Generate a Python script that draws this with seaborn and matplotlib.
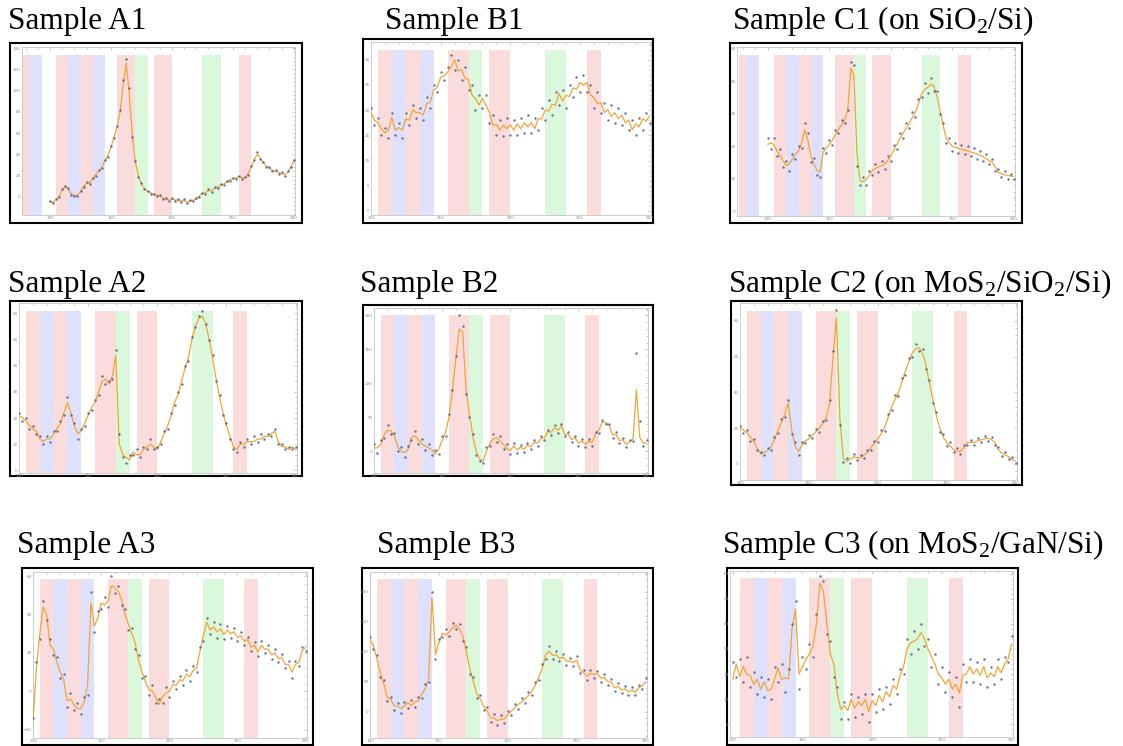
import numpy as np
import matplotlib
matplotlib.use("Agg")
import matplotlib.pyplot as plt
from matplotlib.ticker import AutoMinorLocator, MultipleLocator
import seaborn as sns

# ---------------- data ----------------
SHIFT = np.linspace(100, 300, 81)   # Raman shift grid of the spectra

BAND_RED = [(105, 115), (125, 135), (155, 170), (185, 200), (255, 265)]
BAND_BLUE = [(115, 125), (135, 145)]
BAND_GREEN = [(170, 180), (225, 240)]
EXTRA_RED = [(77, 82.5)]
EXTRA_BLUE = [(82.5, 93)]

TITLES = ["Sample A1", "Sample B1", "Sample C1 (on SiO$_2$/Si)",
          "Sample A2", "Sample B2", "Sample C2 (on MoS$_2$/SiO$_2$/Si)",
          "Sample A3", "Sample B3", "Sample C3 (on MoS$_2$/GaN/Si)"]

A1_FIT = [-5, -5, -3, 1, 6, 10, 7, 3, 1, 2,
          5, 10, 13, 13, 17, 21, 24, 28, 34, 39,
          47, 56, 66, 80, 105, 126, 97, 58, 33, 20,
          12, 8, 5, 4, 2, 2, 1, -1, -2, -3,
          -2, -3, -3, -4, -3, -5, -4, -3, -2, 1,
          3, 4, 6, 6, 8, 9, 11, 12, 14, 16,
          17, 18, 19, 18, 18, 22, 28, 35, 40, 37,
          32, 29, 27, 25, 24, 23, 22, 21, 23, 28,
          34]
A1_RAW = [-4, -6, -2, 0, 7, 10, 8, 2, 1, 1,
          6, 9, 14, 12, 18, 20, 25, 27, 35, 38,
          48, 55, 67, 82, 110, 130, 102, 56, 34, 19,
          13, 7, 6, 3, 3, 1, 2, -2, -1, -4,
          -1, -4, -2, -5, -2, -6, -3, -4, -1, 0,
          4, 3, 7, 5, 9, 8, 12, 11, 15, 15,
          18, 17, 20, 17, 19, 21, 29, 35, 42, 36,
          33, 28, 28, 24, 25, 22, 23, 20, 24, 28,
          35]

B1_FIT = [19.5, 18, 17.5, 16.2, 15.5, 16, 18.5, 16, 16.5, 16,
          18.3, 18, 20, 19.5, 19.5, 19, 21.3, 21.5, 24, 24.5,
          26.5, 26.8, 27.5, 28.6, 30, 27.8, 28, 26.3, 26, 23,
          22.3, 21, 22.3, 21, 19.5, 17, 17.2, 16, 17, 16.3,
          17.1, 16, 17.3, 16.3, 17.5, 16.7, 17.5, 16.3, 18.3, 18.2,
          20, 19.8, 21.1, 21, 23.3, 21.8, 22.9, 22.7, 24.4, 24.1,
          25.5, 24.9, 25.5, 23, 22.5, 21.3, 21.5, 19.5, 20.1, 18.7,
          19.5, 18.3, 19, 17.5, 18, 16.1, 17.3, 16.7, 18.3, 17.8,
          18.8]
B1_RAW = [20.5, 17, 18.5, 15, 16.5, 14.5, 19.5, 15, 17.5, 14.5,
          19.5, 17, 21, 18.5, 20.5, 18, 22.5, 20.5, 25, 23.5,
          27.5, 26, 28.5, 31, 28, 30, 26, 28.5, 24, 25,
          20, 23, 20.5, 23, 17.5, 19, 15, 18, 14.8, 18.5,
          15, 18, 15, 18.5, 15.5, 19, 15.5, 18.5, 16, 20.5,
          18, 22, 19, 23.5, 21, 24, 20.5, 25, 22.5, 26.5,
          23.5, 27, 23.5, 25, 20.5, 23.5, 19.5, 21.5, 18, 21,
          17.5, 20.5, 17, 19.5, 16, 18, 15, 18.5, 16, 19.5,
          17.5]

C1_FIT = [20.5, 21, 20.5, 18.5, 17, 15.5, 14, 14.5, 16, 17.5,
          18.5, 21, 25, 22, 17, 14.5, 12.5, 12, 18, 19.4,
          20.5, 21.8, 23.5, 25.2, 26.5, 28, 31, 44, 42, 18,
          9.5, 9, 9.7, 11, 12.5, 13.2, 13.6, 14, 14.5, 15.5,
          17, 18.8, 20.5, 22.3, 24, 25.5, 27, 28.8, 30.5, 33,
          36, 37.5, 38, 39, 38.5, 35.5, 31, 26.5, 22.5, 21,
          20, 19.6, 19.3, 19, 18.8, 18.5, 18.2, 17.9, 17.6, 17.2,
          16.8, 16.2, 15.5, 15, 13.5, 12, 11.5, 11.2, 11, 10.8,
          10.7]
C1_RAW = [22.5, 19, 22.5, 17, 19, 13.5, 15.5, 12.5, 17.5, 16,
          20, 19.5, 27, 24, 15, 16.5, 11, 10.5, 19.5, 18,
          22, 20.5, 25, 24, 28, 27, 31, 46, 45, 14,
          8, 10.5, 8, 12.5, 11, 14.5, 12, 15.5, 13, 17,
          15.5, 20.5, 19, 24, 22.5, 27, 25.5, 30.5, 29, 34.5,
          35, 39.5, 36.5, 41, 37, 37, 30, 27, 21, 22.5,
          18.5, 21, 18, 20.5, 17.5, 20, 17, 19.5, 16, 18.5,
          15.5, 17.5, 14.5, 16, 12.5, 13, 10.5, 12.5, 10, 11.5,
          10]

A2_FIT = [21, 20, 19, 17, 16, 15, 12, 11, 12, 12,
          14, 16, 18, 22, 26, 22, 17, 14, 15, 18,
          21, 24, 26, 30, 34, 35, 33, 36, 44, 10,
          6, 5, 4, 7, 6, 6, 8, 9, 10, 9,
          8, 11, 14, 17, 21, 26, 29, 34, 39, 43,
          50, 55, 58, 59, 56, 50, 43, 35, 28, 22,
          17, 13, 9, 8, 10, 10, 11, 11, 11, 12,
          12, 13, 13, 14, 15, 11, 9, 9, 8, 9,
          8]
A2_RAW = [22, 19, 20, 16, 17, 14, 13, 10, 13, 11,
          15, 15, 19, 21, 28, 21, 18, 12, 16, 17,
          22, 23, 27, 29, 36, 33, 34, 35, 46, 14,
          5, 3, 6, 6, 8, 5, 9, 8, 12, 8,
          9, 10, 15, 16, 22, 25, 30, 33, 40, 42,
          51, 55, 59, 61, 56, 50, 44, 34, 29, 21,
          18, 12, 8, 7, 11, 9, 12, 10, 13, 11,
          14, 12, 14, 13, 16, 10, 10, 8, 9, 8,
          9]

B2_FIT = [5, 5, 10, 25, 31, 30, 22, 6, 0, -2,
          3, 20, 23, 17, 11, 8, 5, 2, -4, 3,
          16, 28, 50, 90, 135, 180, 176, 92, 55, 22,
          0, -12, -14, 0, 12, 18, 20, 15, 10, 4,
          1, 8, 2, 6, 3, 9, 7, 13, 12, 19,
          20, 29, 28, 35, 31, 37, 25, 25, 17, 20,
          12, 15, 10, 15, 13, 25, 31, 43, 42, 38,
          24, 25, 16, 17, 10, 14, 18, 90, 20, 12,
          12]
B2_RAW = [10, -3, 16, 20, 38, 26, 27, 0, 6, -8,
          8, 16, 30, 10, 18, 2, 11, -5, 2, -4,
          22, 22, 55, 90, 140, 200, 185, 85, 50, 25,
          -6, -15, -18, 6, 8, 26, 14, 22, 4, 10,
          -4, 12, -2, 9, -1, 12, 3, 17, 8, 22,
          16, 32, 24, 38, 27, 40, 22, 28, 13, 23,
          8, 18, 6, 18, 8, 28, 27, 46, 40, 40,
          20, 28, 12, 20, 6, 16, 15, 145, 45, 8,
          16]

C2_FIT = [20, 19, 17.5, 15, 12.5, 9, 5.5, 6.5, 7.5, 9.5,
          13.5, 19, 23, 28, 34, 19, 10, 7, 10.5, 13,
          14, 16, 18, 20, 22.5, 26, 34, 60, 82, 25,
          3, 1.5, 2.5, 4, 3.5, 3.5, 5, 6.5, 9, 11.5,
          14, 17, 20.5, 26, 32, 36, 40, 46, 52, 57,
          62, 64.5, 65, 62, 55, 45, 36, 27, 20, 15,
          12, 10, 8, 7, 7, 9, 12, 12, 12, 13,
          13.5, 14, 14.5, 13.5, 12, 8, 6, 5, 4, 2.5,
          1.5]
C2_RAW = [21, 17.5, 19, 13, 14, 7.5, 6.5, 5, 9, 8,
          15, 17.5, 25, 26, 36, 17, 12, 5, 12, 11.5,
          16, 14.5, 19.5, 18, 24, 24.5, 36, 63, 86, 22,
          1, 3.5, 0.5, 5.5, 2, 5, 3.5, 8, 7.5, 13,
          12.5, 19, 18.5, 28, 30, 38.5, 38, 48, 50, 59,
          60, 67, 63, 64, 53, 47, 34, 29, 18, 17,
          10, 12, 6.5, 9, 5.5, 10.5, 10.5, 13.5, 10.5, 14.5,
          12, 15.5, 13, 15, 10.5, 9.5, 4.5, 6.5, 2.5, 4,
          0.5]

A3_FIT = [-16, 12, 30, 44, 40, 24, 22, 15, 10, 6,
          -5, -4, -7, -9, -9, -6, 3, 46, 34, 38,
          46, 45, 47, 55, 54, 52, 48, 40, 35, 30,
          25, 16, 10, 5, 1, 0, -3, -7, -3, -1,
          0, 3.5, 3, 6, 5.5, 9, 7.5, 11, 12, 21,
          29, 36, 32, 33.5, 31, 32.5, 29.5, 32, 30, 31,
          28, 29, 26, 27, 23, 24, 20.5, 24, 22, 22,
          19, 20, 17, 17.5, 14, 14, 10, 14, 15, 21,
          23]
A3_RAW = [-14, 15, 27, 47, 37, 27, 19, 18, 7, 9,
          -8, -1, -10, -6, -12, -3, -2, 52, 31, 42,
          43, 49, 44, 60, 51, 55, 45, 43, 32, 33,
          22, 19, 7, 8, -2, 3, -6, -4, -6, 2,
          -3, 5.5, 1, 8, 3.5, 11, 5.5, 13, 10, 23,
          26, 38, 30, 36, 28, 35, 27, 34, 28, 33,
          26, 31, 24, 28.5, 21, 25.5, 18.5, 26, 20, 24,
          17, 22, 15, 19.5, 12, 16, 7, 16, 13, 23,
          21]

B3_FIT = [120, 110, 88, 64, 47, 24, 20, 10, 9, 5,
          10, 15, 10, 16, 18, 29, 38, 55, 190, 95,
          115, 131, 128, 133, 140, 144, 138, 125, 100, 70,
          50, 30, 21, 9, 1, -10, -11, -15, -13, -12,
          -6, 1, 6, 12, 16, 21, 27, 34, 44, 58,
          72, 95, 101, 94, 95, 89, 91, 84, 84, 82,
          86, 70, 65, 59, 64, 62, 63, 56, 57, 50,
          49, 40, 42, 36, 38, 33, 36, 32, 40, 43,
          50]
B3_RAW = [125, 105, 95, 58, 52, 18, 24, 2, 14, -3,
          16, 6, 20, 8, 25, 22, 46, 50, 200, 88,
          122, 124, 138, 127, 148, 138, 146, 118, 108, 62,
          58, 22, 28, 2, 8, -17, -4, -22, -6, -19,
          1, -6, 13, 5, 23, 14, 33, 28, 50, 52,
          80, 88, 110, 88, 101, 84, 97, 78, 90, 76,
          93, 64, 70, 52, 70, 56, 68, 50, 62, 45,
          54, 35, 47, 31, 43, 28, 41, 27, 45, 37,
          56]

C3_FIT = [18, 24, 19, 23, 20, 19.5, 16, 18, 14, 17,
          13.5, 14, 18, 22.5, 18, 18.5, 18, 38, 46, 20,
          23, 26, 28, 31, 40, 56, 53, 40, 28, 24,
          12, 6, 7.5, 5.5, 10, 6.5, 9, 7.5, 10, 5,
          9.5, 7.5, 11.5, 9, 13, 11, 15.5, 14, 19.5, 23,
          30, 32.5, 33, 34, 36.5, 34, 30, 27, 24, 20,
          18.5, 16, 18, 14, 16, 12.5, 19.5, 20, 23, 20,
          22, 19.5, 23, 18.5, 20.5, 19, 23, 20.5, 24, 26,
          32]
C3_RAW = [25, 19, 26, 17, 27, 15, 21, 12, 19, 11,
          18, 10, 23, 17, 24, 13, 22, 40, 49, 14,
          27, 22, 32, 27, 44, 59, 57, 36, 33, 19,
          15, 2, 9, 2, 12, 3, 11, 4, 12, 1,
          12, 5, 14, 6, 15, 8, 18, 12, 22, 20,
          34, 28, 37, 30, 40, 31, 34, 23, 28, 16,
          23, 13, 21, 11, 19, 7, 24, 17, 26, 17,
          25, 16, 26, 15, 23, 16, 26, 18, 27, 25,
          35]

for arr in (A1_FIT, A1_RAW, B1_FIT, B1_RAW, C1_FIT, C1_RAW, A2_FIT, A2_RAW,
            B2_FIT, B2_RAW, C2_FIT, C2_RAW, A3_FIT, A3_RAW, B3_FIT, B3_RAW,
            C3_FIT, C3_RAW):
    assert len(arr) == len(SHIFT), len(arr)

# ---------------- style ----------------
sns.set_style("white")
plt.rcParams["font.family"] = ["DejaVu Sans"]
plt.rcParams["mathtext.fontset"] = "custom"
plt.rcParams["mathtext.rm"] = "Liberation Serif"
plt.rcParams["mathtext.it"] = "Liberation Serif:italic"
plt.rcParams["mathtext.bf"] = "Liberation Serif:bold"

RED_C = "#fbdcdc"
BLUE_C = "#dfe0fb"
GREEN_C = "#dcf8dc"
LINE_C = "#f0a43a"
DOT_C = "#4b5b7d"

W, H = 1123, 746
fig = plt.figure(figsize=(W / 100, H / 100), dpi=100)
fig.patch.set_facecolor("white")


def px_rect(l, t, r, b):
    return [l / W, 1 - b / H, (r - l) / W, (b - t) / H]


LAYOUT = [
    # title pos, frame, inner, xlim, ylim, ystep, extra bands
    ((8, 29), (10, 43, 302, 223), (22, 47, 295, 215), (77, 301), (-17, 141), 20, True),
    ((385, 29), (363, 39, 653, 223), (371, 42, 651, 215), (100, 301), (-0.8, 33.5), 5, False),
    ((732, 29), (730, 43, 1022, 223), (737, 47, 1015, 216), (75, 301), (-1.5, 50.5), 10, True),
    ((8, 292), (10, 301, 302, 476), (19, 303, 297, 473), (100, 301), (-1, 64), 10, False),
    ((360, 292), (363, 305, 653, 476), (374, 308, 648, 473), (100, 301), (-32, 211), 50, False),
    ((728, 292), (731, 301, 1022, 485), (740, 303, 1017, 480), (100, 301), (-9, 90), 20, False),
    ((17, 553), (22, 568, 313, 745), (33, 572, 307, 738), (100, 301), (-24.4, 62.2), 20, False),
    ((377, 553), (362, 568, 653, 745), (370, 572, 647, 738), (100, 301), (-44, 233), 50, False),
    ((722, 553), (727, 568, 1018, 745), (730, 571, 1013, 737), (98, 301), (-5, 61), 10, False),
]
SERIES = [(A1_FIT, A1_RAW), (B1_FIT, B1_RAW), (C1_FIT, C1_RAW),
          (A2_FIT, A2_RAW), (B2_FIT, B2_RAW), (C2_FIT, C2_RAW),
          (A3_FIT, A3_RAW), (B3_FIT, B3_RAW), (C3_FIT, C3_RAW)]

for title, lay, (fit, raw) in zip(TITLES, LAYOUT, SERIES):
    tpos, frame, inner, xlim, ylim, ystep, extra = lay
    fax = fig.add_axes(px_rect(*frame))
    fax.set_xticks([])
    fax.set_yticks([])
    fax.set_facecolor("white")
    for s in fax.spines.values():
        s.set_visible(True)
        s.set_color("black")
        s.set_linewidth(1.5)

    ax = fig.add_axes(px_rect(*inner))
    ax.set_facecolor("none")
    reds = BAND_RED + (EXTRA_RED if extra else [])
    blues = BAND_BLUE + (EXTRA_BLUE if extra else [])
    for x0, x1 in reds:
        ax.axvspan(x0, x1, ymin=0, ymax=0.955, color=RED_C, lw=0, zorder=1)
    for x0, x1 in blues:
        ax.axvspan(x0, x1, ymin=0, ymax=0.955, color=BLUE_C, lw=0, zorder=1)
    for x0, x1 in BAND_GREEN:
        ax.axvspan(x0, x1, ymin=0, ymax=0.955, color=GREEN_C, lw=0, zorder=1)

    sns.lineplot(x=SHIFT, y=fit, ax=ax, color=LINE_C, linewidth=0.9, zorder=3)
    sns.scatterplot(x=SHIFT, y=raw, ax=ax, s=3, color=DOT_C, linewidth=0,
                    alpha=0.85, zorder=4)

    ax.set_xlim(*xlim)
    ax.set_ylim(*ylim)
    ax.xaxis.set_major_locator(MultipleLocator(50))
    ax.yaxis.set_major_locator(MultipleLocator(ystep))
    ax.xaxis.set_minor_locator(AutoMinorLocator(5))
    ax.yaxis.set_minor_locator(AutoMinorLocator(5))
    ax.set_xlabel("")
    ax.set_ylabel("")
    ax.tick_params(which="both", direction="in", top=True, right=True,
                   colors="#a0a0a0", labelcolor="#8a8a8a", labelsize=3, pad=1,
                   width=0.4)
    ax.tick_params(which="major", length=2.2)
    ax.tick_params(which="minor", length=1.2)
    for s in ax.spines.values():
        s.set_visible(True)
        s.set_color("#c4c4c4")
        s.set_linewidth(0.6)

    fig.text(tpos[0] / W, 1 - tpos[1] / H, title, fontsize=22.5,
             family="Liberation Serif", ha="left", va="baseline", color="black")

fig.savefig("out.png", dpi=100, facecolor="white")
